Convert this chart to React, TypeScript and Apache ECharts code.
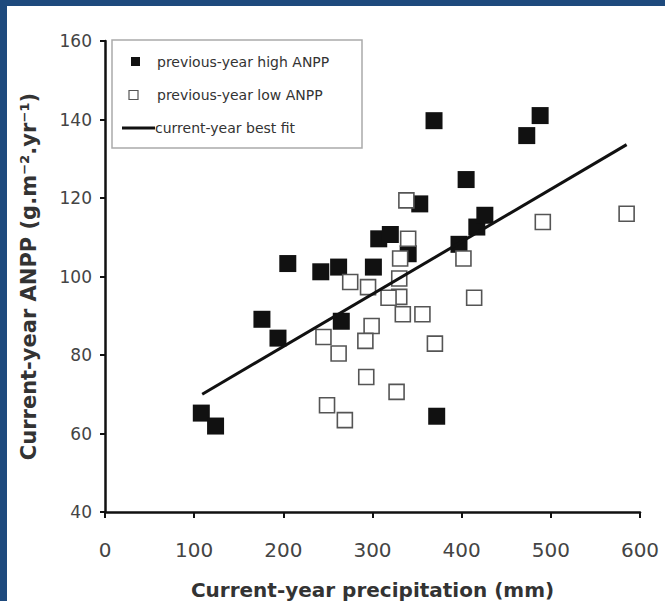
import React, { useEffect, useRef } from "react";
import * as echarts from "echarts";

const xTicks = [0, 100, 200, 300, 400, 500, 600];
const yTicks = [40, 60, 80, 100, 120, 140, 160];

const highX = [108, 124, 176, 194, 265, 205, 242, 262, 301, 307, 320, 353, 369, 372, 397, 405, 417, 426, 473, 488, 340];
const highY = [65.2, 61.9, 89.1, 84.3, 88.6, 103.3, 101.2, 102.4, 102.4, 109.6, 110.7, 118.5, 139.7, 64.4, 108.2, 124.7, 112.6, 115.6, 135.9, 141, 105.8];

const lowX = [338, 340, 331, 330, 330, 318, 334, 356, 402, 414, 491, 585, 275, 295, 299, 245, 292, 370, 262, 293, 327, 249, 269];
const lowY = [119.4, 109.6, 104.6, 99.5, 94.8, 94.6, 90.4, 90.4, 104.6, 94.6, 113.9, 116, 98.6, 97.3, 87.4, 84.6, 83.6, 82.9, 80.4, 74.4, 70.6, 67.2, 63.4];

const fitX = [109, 585];
const fitY = [70, 133.6];

const legendNames = ["previous-year high ANPP", "previous-year low ANPP", "current-year best fit"];
const xName = "Current-year precipitation (mm)";
const yName = "Current-year ANPP (g.m\u207B\u00B2.yr\u207B\u00B9)";

export default function App() {
  const ref = useRef<HTMLDivElement>(null);
  useEffect(() => {
    if (!ref.current) return;
    const chart = echarts.init(ref.current, undefined, { renderer: "svg" });
    const font = "DejaVu Sans, Arial, sans-serif";
    const legendText = { fontFamily: font, fontSize: 14, fill: "#333" };
    chart.setOption({
      animation: false,
      backgroundColor: "#ffffff",
      grid: { left: 98, top: 35, right: 25, bottom: 89, outerBoundsMode: "none", containLabel: false },
      xAxis: {
        type: "value",
        min: xTicks[0],
        max: xTicks[xTicks.length - 1],
        interval: 100,
        splitLine: { show: false },
        axisLine: { lineStyle: { color: "#111", width: 2.5 } },
        axisTick: { length: 6, lineStyle: { color: "#111", width: 2 } },
        axisLabel: { fontFamily: font, fontSize: 20, color: "#444", margin: 28 },
        name: xName,
        nameLocation: "middle",
        nameGap: 68,
        nameTextStyle: { fontFamily: font, fontSize: 20, fontWeight: "bold", color: "#333" },
      },
      yAxis: {
        type: "value",
        min: yTicks[0],
        max: yTicks[yTicks.length - 1],
        interval: 20,
        splitLine: { show: false },
        axisLine: { lineStyle: { color: "#111", width: 2.5 } },
        axisTick: { length: 5, lineStyle: { color: "#111", width: 2 } },
        axisLabel: { fontFamily: font, fontSize: 17, color: "#444", margin: 13 },
        name: yName,
        nameLocation: "middle",
        nameGap: 66,
        nameTextStyle: { fontFamily: font, fontSize: 21, fontWeight: "bold", color: "#333" },
      },
      graphic: [
        {
          type: "rect",
          shape: { x: 105, y: 34, width: 250, height: 108 },
          style: { fill: "#fff", stroke: "#aaa", lineWidth: 1.5 },
          z: 50,
        },
        { type: "rect", shape: { x: 124, y: 51, width: 9, height: 9 }, style: { fill: "#111" }, z: 51 },
        { type: "rect", shape: { x: 122, y: 84.5, width: 9, height: 9 }, style: { fill: "#fff", stroke: "#555", lineWidth: 1.2 }, z: 51 },
        { type: "line", shape: { x1: 115, y1: 122, x2: 148, y2: 122 }, style: { stroke: "#111", lineWidth: 3 }, z: 51 },
        { type: "text", x: 150, y: 55.7, style: { ...legendText, text: legendNames[0], verticalAlign: "middle" }, z: 51 },
        { type: "text", x: 150, y: 89, style: { ...legendText, text: legendNames[1], verticalAlign: "middle" }, z: 51 },
        { type: "text", x: 148, y: 122.3, style: { ...legendText, text: legendNames[2], verticalAlign: "middle" }, z: 51 },
      ],
      series: [
        {
          name: legendNames[0],
          type: "scatter",
          symbol: "rect",
          symbolSize: 17,
          itemStyle: { color: "#111", opacity: 1 },
          data: highX.map((x, i) => [x, highY[i]]),
          z: 2,
        },
        {
          name: legendNames[1],
          type: "scatter",
          symbol: "rect",
          symbolSize: 15,
          itemStyle: { color: "#fff", borderColor: "#555", borderWidth: 1.6, opacity: 1 },
          data: lowX.map((x, i) => [x, lowY[i]]),
          z: 3,
        },
        {
          name: legendNames[2],
          type: "line",
          symbol: "none",
          lineStyle: { color: "#111", width: 3 },
          data: fitX.map((x, i) => [x, fitY[i]]),
          z: 4,
        },
      ],
    });
    return () => chart.dispose();
  }, []);
  return (
    <div style={{ position: "fixed", left: 0, top: 0, width: 665, height: 601, background: "#1e4a7d" }}>
      <div ref={ref} style={{ position: "absolute", left: 7, top: 6, width: 658, height: 595, background: "#fff" }} />
    </div>
  );
}
